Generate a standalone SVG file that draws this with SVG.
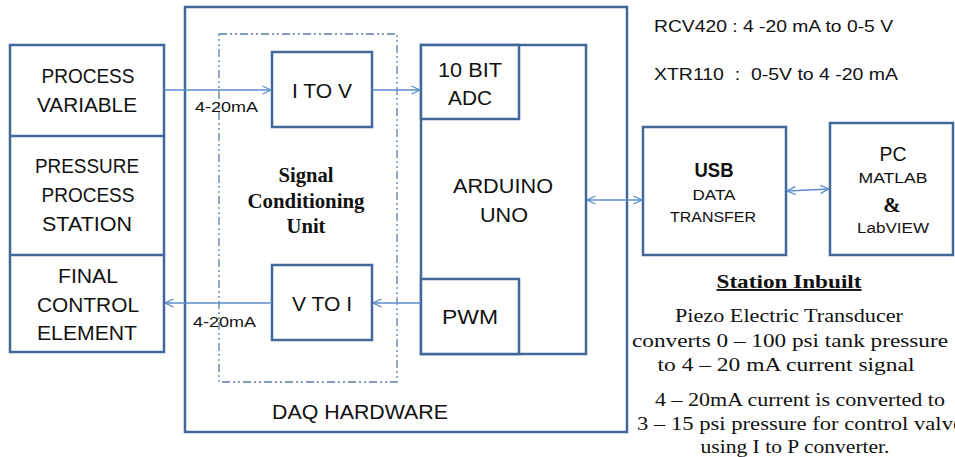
<svg xmlns="http://www.w3.org/2000/svg" width="955" height="457" viewBox="0 0 955 457">
<defs>
<style>
.box{fill:#fff;stroke:#41679B;stroke-width:2.5}
.fr{fill:none;stroke:#41679B;stroke-width:2.5}
.dd{fill:none;stroke:#5A7DAA;stroke-width:1.3;stroke-dasharray:8 3 2 3 2 3}
.c{stroke:#5B8CC8;stroke-width:1.3;fill:none}
.s{font-family:"Liberation Sans",Arial,sans-serif;fill:#111}
.t{font-family:"Liberation Serif","Times New Roman",serif;fill:#111}
.m{text-anchor:middle}
.L{font-size:20px}
.S{font-size:15.5px}
.R{font-size:19px}
text{lengthAdjust:spacingAndGlyphs}
</style>
<marker id="ah" viewBox="0 0 10 10" refX="9.5" refY="5" markerWidth="10" markerHeight="10" markerUnits="userSpaceOnUse" orient="auto-start-reverse">
<path d="M1,1 L9.5,5 L1,9" fill="none" stroke="#5B8CC8" stroke-width="1.3"/>
</marker>
</defs>
<rect width="955" height="457" fill="#fff"/>

<g id="daq">
<rect class="fr" x="185" y="7" width="442" height="425"/>
<text class="s m L" x="360" y="419" textLength="176" lengthAdjust="spacingAndGlyphs">DAQ HARDWARE</text>
</g>

<g id="scu">
<rect class="dd" x="219" y="34" width="178" height="348"/>
<text class="t m" x="306" y="182" font-size="20" font-weight="bold" textLength="55" lengthAdjust="spacingAndGlyphs">Signal</text>
<text class="t m" x="306" y="208" font-size="20" font-weight="bold" textLength="117" lengthAdjust="spacingAndGlyphs">Conditioning</text>
<text class="t m" x="306" y="233" font-size="20" font-weight="bold" textLength="39" lengthAdjust="spacingAndGlyphs">Unit</text>
</g>

<g id="station">
<rect class="box" x="10" y="45" width="154" height="307"/>
<line class="fr" x1="10" y1="136" x2="164" y2="136"/>
<line class="fr" x1="10" y1="255" x2="164" y2="255"/>
</g>
<g id="pv">
<text class="s m L" x="88" y="83" textLength="93" lengthAdjust="spacingAndGlyphs">PROCESS</text>
<text class="s m L" x="87" y="112" textLength="100" lengthAdjust="spacingAndGlyphs">VARIABLE</text>
</g>
<g id="pps">
<text class="s m L" x="87" y="173" textLength="104" lengthAdjust="spacingAndGlyphs">PRESSURE</text>
<text class="s m L" x="88" y="202" textLength="93" lengthAdjust="spacingAndGlyphs">PROCESS</text>
<text class="s m L" x="87" y="231" textLength="90" lengthAdjust="spacingAndGlyphs">STATION</text>
</g>
<g id="fce">
<text class="s m L" x="88" y="283" textLength="60" lengthAdjust="spacingAndGlyphs">FINAL</text>
<text class="s m L" x="88" y="312" textLength="102" lengthAdjust="spacingAndGlyphs">CONTROL</text>
<text class="s m L" x="87" y="340" textLength="100" lengthAdjust="spacingAndGlyphs">ELEMENT</text>
</g>

<g id="itov">
<rect class="box" x="272" y="52" width="100" height="75"/>
<text class="s m L" x="322" y="98" textLength="60" lengthAdjust="spacingAndGlyphs">I TO V</text>
</g>
<g id="vtoi">
<rect class="box" x="272" y="265" width="100" height="75"/>
<text class="s m L" x="322" y="311" textLength="60" lengthAdjust="spacingAndGlyphs">V TO I</text>
</g>

<g id="arduino">
<rect class="box" x="421" y="45" width="165" height="309"/>
<text class="s m L" x="503" y="193" textLength="100" lengthAdjust="spacingAndGlyphs">ARDUINO</text>
<text class="s m L" x="504" y="222" textLength="48" lengthAdjust="spacingAndGlyphs">UNO</text>
</g>
<g id="adc">
<rect class="box" x="421" y="45" width="98" height="74"/>
<text class="s m L" x="470" y="77" textLength="64" lengthAdjust="spacingAndGlyphs">10 BIT</text>
<text class="s m L" x="470" y="105" textLength="44" lengthAdjust="spacingAndGlyphs">ADC</text>
</g>
<g id="pwm">
<rect class="box" x="421" y="279" width="98" height="75"/>
<text class="s m L" x="470" y="324" textLength="56" lengthAdjust="spacingAndGlyphs">PWM</text>
</g>

<g id="usb">
<rect class="box" x="643" y="127" width="143" height="128"/>
<text class="s m" x="714" y="177" font-size="20" font-weight="bold" textLength="39" lengthAdjust="spacingAndGlyphs">USB</text>
<text class="s m S" x="714" y="200" textLength="43" lengthAdjust="spacingAndGlyphs">DATA</text>
<text class="s m S" x="713" y="222" textLength="86" lengthAdjust="spacingAndGlyphs">TRANSFER</text>
</g>
<g id="pc">
<rect class="box" x="830" y="123" width="123" height="132"/>
<text class="s m" x="893" y="161" font-size="20" textLength="27" lengthAdjust="spacingAndGlyphs">PC</text>
<text class="s m S" x="893" y="183" textLength="69" lengthAdjust="spacingAndGlyphs">MATLAB</text>
<text class="t m" x="892" y="212" font-size="21" font-weight="bold">&amp;</text>
<text class="s m S" x="893" y="233" textLength="72" lengthAdjust="spacingAndGlyphs">LabVIEW</text>
</g>

<g id="connectors">
<line class="c" x1="164" y1="90" x2="271" y2="90" marker-end="url(#ah)"/>
<line class="c" x1="372" y1="90" x2="420" y2="90" marker-end="url(#ah)"/>
<line class="c" x1="421" y1="303" x2="373" y2="303" marker-end="url(#ah)"/>
<line class="c" x1="272" y1="303" x2="165" y2="303" marker-end="url(#ah)"/>
<line class="c" x1="587" y1="200" x2="642" y2="200" marker-start="url(#ah)" marker-end="url(#ah)"/>
<line class="c" x1="787" y1="191" x2="829" y2="189" marker-start="url(#ah)" marker-end="url(#ah)"/>
<text class="s" x="195" y="112" font-size="15" textLength="63" lengthAdjust="spacingAndGlyphs">4-20mA</text>
<text class="s" x="193" y="327" font-size="15" textLength="63" lengthAdjust="spacingAndGlyphs">4-20mA</text>
</g>

<g id="notes">
<text class="s" x="654" y="32" font-size="17" fill="#333" textLength="239" lengthAdjust="spacingAndGlyphs">RCV420 : 4 -20 mA to 0-5 V</text>
<text class="s" x="654" y="80" font-size="17" fill="#333" xml:space="preserve" textLength="244" lengthAdjust="spacingAndGlyphs">XTR110  :  0-5V to 4 -20 mA</text>
<text class="t m" x="789" y="288" font-size="19" font-weight="bold" text-decoration="underline" textLength="145" lengthAdjust="spacingAndGlyphs">Station Inbuilt</text>
<text class="t m R" x="789" y="322" textLength="228" lengthAdjust="spacingAndGlyphs">Piezo Electric Transducer</text>
<text class="t m R" x="790" y="347" textLength="316" lengthAdjust="spacingAndGlyphs">converts 0 – 100 psi tank pressure</text>
<text class="t m R" x="786" y="371" textLength="257" lengthAdjust="spacingAndGlyphs">to 4 – 20 mA current signal</text>
<text class="t m R" x="800" y="406" textLength="290" lengthAdjust="spacingAndGlyphs">4 – 20mA current is converted to</text>
<text class="t R" x="637" y="430" textLength="326" lengthAdjust="spacingAndGlyphs">3 – 15 psi pressure for control valve</text>
<text class="t m R" x="795" y="453" textLength="189" lengthAdjust="spacingAndGlyphs">using I to P converter.</text>
</g>
</svg>
